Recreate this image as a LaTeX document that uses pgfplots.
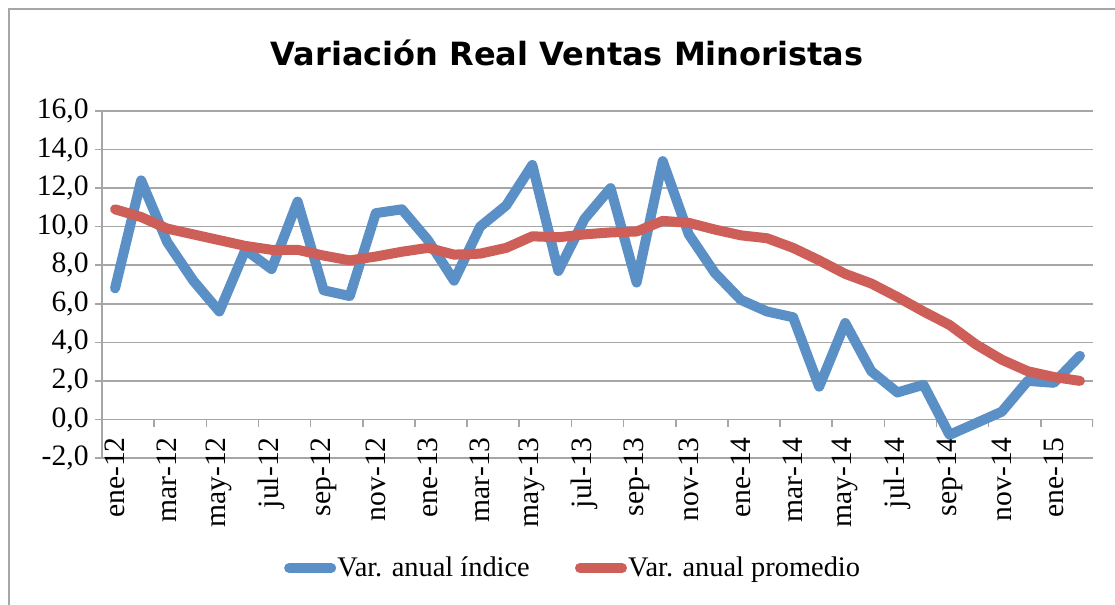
\documentclass[border=0pt]{standalone}
\usepackage{fontspec}
\setmainfont{Liberation Serif}
\newfontfamily\titlefont{DejaVu Sans}
\usepackage{pgfplots}
\pgfplotsset{compat=1.18}
\definecolor{serA}{RGB}{91,144,199}
\definecolor{serB}{RGB}{205,94,88}
\definecolor{gridc}{RGB}{166,166,166}
\pgfplotstableread{
i v
0 6.8
1 12.4
2 9.2
3 7.2
4 5.6
5 8.8
6 7.8
7 11.3
8 6.7
9 6.4
10 10.7
11 10.9
12 9.3
13 7.2
14 10.0
15 11.1
16 13.2
17 7.7
18 10.4
19 12.0
20 7.1
21 13.4
22 9.6
23 7.6
24 6.2
25 5.6
26 5.3
27 1.7
28 5.0
29 2.5
30 1.4
31 1.8
32 -0.8
33 -0.2
34 0.4
35 2.0
36 1.9
37 3.3
}\indice
\pgfplotstableread{
i v
0 10.9
1 10.5
2 9.9
3 9.6
4 9.3
5 9.0
6 8.8
7 8.8
8 8.5
9 8.25
10 8.45
11 8.7
12 8.9
13 8.55
14 8.6
15 8.9
16 9.5
17 9.45
18 9.6
19 9.7
20 9.75
21 10.3
22 10.2
23 9.85
24 9.55
25 9.4
26 8.9
27 8.25
28 7.55
29 7.05
30 6.35
31 5.6
32 4.9
33 3.9
34 3.1
35 2.5
36 2.2
37 2.0
}\promedio
\begin{document}
\begin{tikzpicture}[x=1pt,y=1pt]
\path[use as bounding box] (0,0) rectangle (557.5,302.5);
\draw[gridc, line width=0.8pt] (4.5,0) -- (4.5,298) -- (557.5,298);
\node[font=\titlefont\bfseries\fontsize{16}{19}\selectfont] at (283.5,276) {Variación Real Ventas Minoristas};
\begin{axis}[
  at={(51pt,73.5pt)}, anchor=south west, scale only axis,
  width=495.5pt, height=173.5pt,
  xmin=-0.5, xmax=37.5, ymin=-2, ymax=16,
  axis lines*=left,
  axis line style={gridc, line width=0.8pt},
  ytick={-2,0,...,16},
  xtick={0,2,...,36},
  xticklabels={ene-12,mar-12,may-12,jul-12,sep-12,nov-12,ene-13,mar-13,may-13,jul-13,sep-13,nov-13,ene-14,mar-14,may-14,jul-14,sep-14,nov-14,ene-15},
  xtick align=inside,
  ytick align=outside,
  major tick length=3.5pt,
  xtick style={draw=none},
  ytick style={gridc, line width=0.8pt},
  ymajorgrids,
  grid style={gridc, line width=0.8pt},
  tick label style={font=\fontsize{14.8}{17}\selectfont},
  xticklabel style={rotate=90, anchor=east, inner sep=0pt, xshift=10.5pt},
  yticklabel style={inner sep=0pt, xshift=-3pt,
    /pgf/number format/fixed, /pgf/number format/fixed zerofill,
    /pgf/number format/precision=1, /pgf/number format/use comma},
  /pgf/number format/assume math mode=true,
  legend columns=2,
  legend cell align=left,
  legend style={at={(0.475,-0.317)}, anchor=center, draw=none, fill=none,
    font=\fontsize{14.2}{16}\selectfont, nodes={inner sep=0.6pt},
    /tikz/every even column/.append style={column sep=22pt}},
  legend image code/.code={\draw[#1] (2.5pt,0pt) -- (23.5pt,0pt);},
]
\draw[gridc, line width=0.8pt] (axis cs:-0.5,0) -- (axis cs:37.5,0);
\pgfplotsinvokeforeach{0,...,19}{
  \draw[gridc, line width=0.8pt] (axis cs:{2*#1-0.5},0) -- ++(0pt,-4pt);
}
\addplot[serA, line width=5pt, line cap=round, line join=round] table[x=i, y=v] {\indice};
\addlegendentry{Var. anual índice}
\addplot[serB, line width=5pt, line cap=round, line join=round] table[x=i, y=v] {\promedio};
\addlegendentry{Var. anual promedio}
\end{axis}
\end{tikzpicture}
\end{document}
